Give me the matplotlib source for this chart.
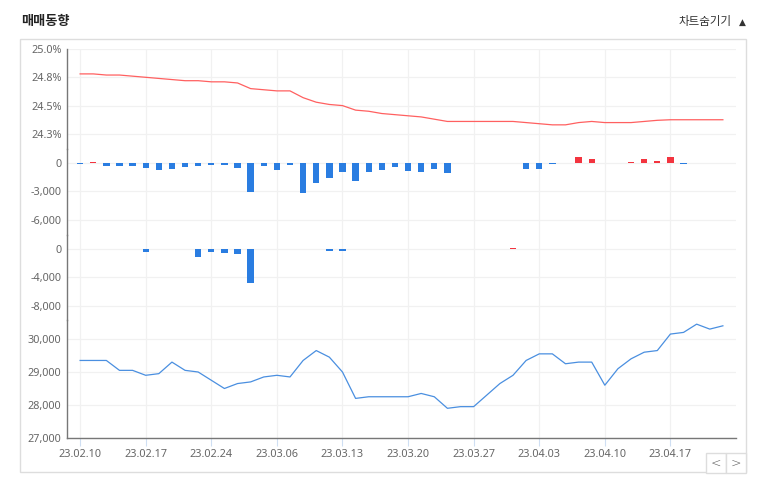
import numpy as np
import matplotlib
matplotlib.use("Agg")
import matplotlib.pyplot as plt
from matplotlib.patches import Rectangle

plt.rcParams['font.family'] = ['Noto Sans', 'DejaVu Sans']

# ---------------- data ----------------
tick_labels = ['23.02.10', '23.02.17', '23.02.24', '23.03.06', '23.03.13',
               '23.03.20', '23.03.27', '23.04.03', '23.04.10', '23.04.17']

ratio_pct = [24.78, 24.78, 24.77, 24.77, 24.76, 24.75, 24.74, 24.73, 24.72, 24.72,
             24.71, 24.71, 24.70, 24.65, 24.64, 24.63, 24.63, 24.57, 24.53, 24.51,
             24.50, 24.46, 24.45, 24.43, 24.42, 24.41, 24.40, 24.38, 24.36, 24.36,
             24.36, 24.36, 24.36, 24.36, 24.35, 24.34, 24.33, 24.33, 24.35, 24.36,
             24.35, 24.35, 24.35, 24.36, 24.37, 24.375, 24.375, 24.375, 24.375, 24.375]

net_a = [-150, 100, -280, -280, -280, -500, -780, -600, -390, -280,
         -180, -180, -500, -3090, -280, -700, -180, -3130, -2140, -1610,
         -980, -1930, -980, -770, -420, -840, -980, -670, -1090, 0,
         0, 0, 0, 0, -600, -670, -150, 0, 660, 450,
         0, 0, 100, 450, 210, 660, -100, 0, 0, 0]

net_b = [0, 0, 0, 0, 0, -400, 0, 0, 0, -1080,
         -370, -600, -700, -4730, 0, 0, 0, 0, 0, -250,
         -250, 0, 0, 0, 0, 0, 0, 0, 0, 0,
         0, 0, 0, 200, 0, 0, 0, 0, 0, 0,
         0, 0, 0, 0, 0, 0, 0, 0, 0, 0]

price = [29350, 29350, 29350, 29050, 29050, 28900, 28950, 29300, 29050, 29000,
         28750, 28500, 28650, 28700, 28850, 28900, 28850, 29350, 29650, 29450,
         29000, 28200, 28250, 28250, 28250, 28250, 28350, 28250, 27900, 27950,
         27950, 28300, 28650, 28900, 29350, 29550, 29550, 29250, 29300, 29300,
         28600, 29100, 29400, 29600, 29650, 30150, 30200, 30450, 30300, 30400]

# ---------------- styling ----------------
W, H = 758, 480
fig = plt.figure(figsize=(W / 100, H / 100), dpi=100)

BLUE = '#2a7de1'
RED = '#f3343f'
GRID = '#f1f1f1'
SPINE = '#777777'
LBL = '#666666'

x = np.arange(len(price))
tick_pos = np.arange(0, len(price), 5)[:len(tick_labels)]

left_px, right_px = 67, 736
panels_px = [(49, 149), (149, 235), (235, 320), (320, 438)]

def ax_at(top, bot):
    return fig.add_axes([left_px / W, 1 - bot / H, (right_px - left_px) / W, (bot - top) / H])

axes = [ax_at(t, b) for t, b in panels_px]

for i, ax in enumerate(axes):
    ax.set_xlim(-1, 50)
    for s in ['top', 'right', 'bottom']:
        ax.spines[s].set_visible(False)
    ax.spines['left'].set_color(SPINE)
    ax.spines['left'].set_linewidth(1.0)
    ax.set_xticks(tick_pos)
    ax.grid(True, color=GRID, linewidth=0.9, zorder=0)
    ax.set_axisbelow(True)
    ax.tick_params(axis='y', length=0, pad=4, labelsize=7.8, labelcolor=LBL)
    if i < 3:
        ax.tick_params(axis='x', length=0, labelbottom=False)
    ax.patch.set_alpha(0)

# panel 1: ratio line
ax1 = axes[0]
ax1.plot(x, ratio_pct, color='#ff6060', linewidth=0.9, zorder=3)
ax1.set_ylim(25.0 - 100 / 113.2, 25.0)
ax1.set_yticks([24.25, 24.5, 24.75, 25.0])
ax1.set_yticklabels(['24.3%', '24.5%', '24.8%', '25.0%'])

# panel 2: bars
ax2 = axes[1]
ax2.bar(x, net_a, width=0.48, color=[RED if v > 0 else BLUE for v in net_a], zorder=3)
ax2.set_ylim(-7582, 1474)
ax2.set_yticks([0, -3000, -6000])
ax2.set_yticklabels(['0', '-3,000', '-6,000'])

# panel 3: bars
ax3 = axes[2]
ax3.bar(x, net_b, width=0.48, color=[RED if v > 0 else BLUE for v in net_b], zorder=3)
ax3.set_ylim(-9968, 1966)
ax3.set_yticks([0, -4000, -8000])
ax3.set_yticklabels(['0', '-4,000', '-8,000'])

# panel 4: price line
ax4 = axes[3]
ax4.plot(x, price, color='#4a8fe0', linewidth=0.9, zorder=3)
ax4.set_ylim(27000, 30576)
ax4.set_yticks([27000, 28000, 29000, 30000])
ax4.set_yticklabels(['27,000', '28,000', '29,000', '30,000'])
ax4.spines['bottom'].set_visible(True)
ax4.spines['bottom'].set_color(SPINE)
ax4.spines['bottom'].set_linewidth(1.0)
ax4.set_xticklabels(tick_labels)
ax4.tick_params(axis='x', length=6, width=0.8, color='#cfdff3', pad=2,
                labelsize=7.8, labelcolor=LBL)

# frame & texts
fig.patches.append(Rectangle((20 / W, 1 - 472 / H), 726 / W, 433 / H, transform=fig.transFigure,
                             fill=False, edgecolor='#dddddd', linewidth=1.0))
fig.text(21 / W, 1 - 21 / H, '매매동향', family=['Noto Sans CJK KR', 'DejaVu Sans'],
         fontsize=9.5, fontweight='bold', color='#222222', va='center', ha='left')
fig.text(732 / W, 1 - 22 / H, '차트숨기기', family=['Noto Sans CJK KR', 'DejaVu Sans'],
         fontsize=8.3, color='#333333', va='center', ha='right')
fig.text(742 / W, 1 - 22 / H, '▲', family=['DejaVu Sans'],
         fontsize=6.5, color='#333333', va='center', ha='center')

# nav buttons
for bx, sym in [(706, '<'), (726, '>')]:
    fig.patches.append(Rectangle((bx / W, 1 - 473 / H), 20 / W, 20 / H, transform=fig.transFigure,
                                 facecolor='white', edgecolor='#dddddd', linewidth=1.0))
    fig.text((bx + 10) / W, 1 - 463 / H, sym, family=['DejaVu Sans'], fontsize=9,
             fontweight='light', color='#555555', ha='center', va='center')

fig.savefig('out.png', dpi=100)
